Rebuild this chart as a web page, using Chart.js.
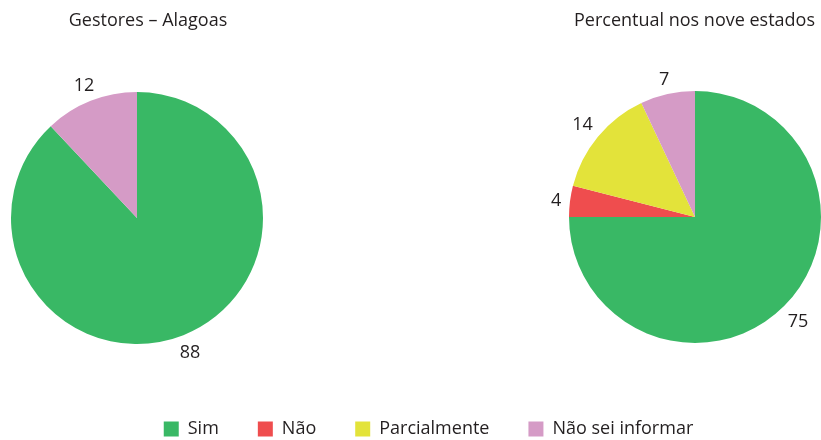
<!DOCTYPE html>
<html>
<head>
<meta charset="utf-8">
<script src="https://cdn.jsdelivr.net/npm/chart.js@4.4.0/dist/chart.umd.min.js"></script>
<style>
  html, body { margin: 0; padding: 0; background: #fff; overflow: hidden; }
  body { width: 821px; height: 440px; position: relative; }
  .caixa { position: absolute; }
</style>
</head>
<body>
<div class="caixa" style="left:0;top:0;width:300px;height:380px"><canvas id="alagoas"></canvas></div>
<div class="caixa" style="left:521px;top:0;width:300px;height:380px"><canvas id="estados"></canvas></div>
<div class="caixa" style="left:36px;top:381px;width:785px;height:160px"><canvas id="legenda"></canvas></div>
<script>
"use strict";

// Dados
const categorias = ["Sim", "Não", "Parcialmente", "Não sei informar"];
const cores = ["#39b865", "#ef4d4e", "#e3e33a", "#d59bc6"];
const gestoresAlagoas = [88, 0, 0, 12];
const noveEstados = [75, 4, 14, 7];
const titulos = ["Gestores – Alagoas", "Percentual nos nove estados"];

const fonte = "'Open Sans', sans-serif";
const corTexto = "#231f20";
const tamanho = 18;

Chart.defaults.font.family = fonte;
Chart.defaults.color = corTexto;

/**
 * Escreve o valor de cada fatia do lado de fora do círculo.
 */
const rotulos = {
  id: "rotulos",
  afterDatasetsDraw(chart) {
    const ctx = chart.ctx;
    const valores = chart.data.datasets[0].data;
    const meiaAltura = tamanho * 0.714 / 2;
    ctx.save();
    ctx.font = tamanho + "px " + fonte;
    ctx.fillStyle = corTexto;
    ctx.textAlign = "center";
    ctx.textBaseline = "alphabetic";
    chart.getDatasetMeta(0).data.forEach((arc, i) => {
      if (!valores[i]) return;
      const p = arc.getProps(["x", "y", "startAngle", "endAngle", "outerRadius"], true);
      const meio = (p.startAngle + p.endAngle) / 2;
      const dx = Math.cos(meio);
      const dy = Math.sin(meio);
      const texto = String(valores[i]);
      const w = ctx.measureText(texto).width;
      const d = p.outerRadius + 8 + Math.abs(dx) * w / 2 + Math.abs(dy) * meiaAltura;
      ctx.fillText(texto, p.x + dx * d, p.y + dy * d + meiaAltura);
    });
    ctx.restore();
  }
};

/**
 * Título desenhado numa posição livre do canvas.
 */
const titulo = {
  id: "titulo",
  afterDraw(chart, args, opts) {
    const ctx = chart.ctx;
    ctx.save();
    ctx.font = tamanho + "px " + fonte;
    ctx.fillStyle = corTexto;
    ctx.textAlign = "center";
    ctx.textBaseline = "alphabetic";
    ctx.fillText(opts.text, opts.x, opts.y);
    ctx.restore();
  }
};

function criarPizza(id, valores, textoTitulo, tituloX, padding) {
  new Chart(document.getElementById(id), {
    type: "pie",
    data: {
      labels: categorias,
      datasets: [{
        data: valores,
        backgroundColor: cores,
        borderWidth: 0
      }]
    },
    options: {
      responsive: true,
      maintainAspectRatio: false,
      animation: false,
      events: [],
      layout: { padding: padding },
      plugins: {
        legend: { display: false },
        tooltip: { enabled: false },
        titulo: { text: textoTitulo, x: tituloX, y: 25.5 }
      }
    },
    plugins: [rotulos, titulo]
  });
}

criarPizza("alagoas", gestoresAlagoas, titulos[0], 148,
  { top: 92, bottom: 36, left: 11, right: 37 });
criarPizza("estados", noveEstados, titulos[1], 173.5,
  { top: 91, bottom: 37, left: 48, right: 0 });

// Legenda comum aos dois gráficos
new Chart(document.getElementById("legenda"), {
  type: "pie",
  data: {
    labels: categorias,
    datasets: [{ data: noveEstados, backgroundColor: cores, borderWidth: 0 }]
  },
  options: {
    responsive: true,
    maintainAspectRatio: false,
    animation: false,
    events: [],
    plugins: {
      tooltip: { enabled: false },
      legend: {
        position: "top",
        labels: {
          boxWidth: 15,
          boxHeight: 15,
          padding: 39,
          font: { size: tamanho },
          color: corTexto
        }
      }
    }
  },
  plugins: [{ id: "semFatias", beforeDatasetsDraw: () => false }]
});
</script>
</body>
</html>
